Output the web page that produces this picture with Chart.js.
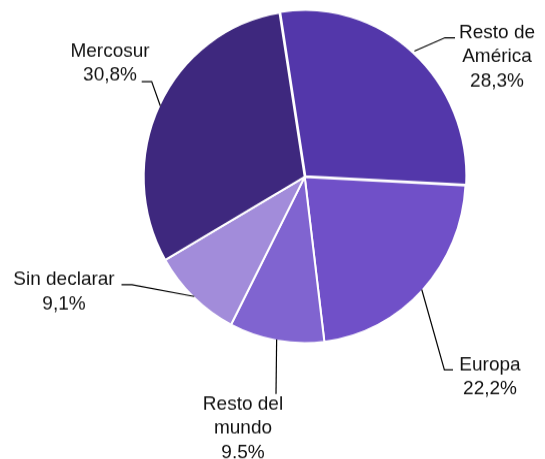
<!DOCTYPE html>
<html>
<head>
<meta charset="utf-8">
<script src="https://cdn.jsdelivr.net/npm/chart.js@4.4.4/dist/chart.umd.min.js"></script>
<style>
  html, body { margin: 0; padding: 0; background: #fff; overflow: hidden; }
  /* the reference pie is a bit taller than wide, so stretch the drawing slightly */
  #wrap { width: 545px; height: 460px; transform: scaleY(1.032); transform-origin: 0 0; }
</style>
</head>
<body>
<div id="wrap"><canvas id="chart"></canvas></div>
<script>
// data
const regions = ['Resto de América', 'Europa', 'Resto del mundo', 'Sin declarar', 'Mercosur'];
const shares = [28.3, 22.2, 9.5, 9.1, 30.8];
const shareLabels = ['28,3%', '22,2%', '9.5%', '9,1%', '30,8%'];
const nameLines = [['Resto de', 'América'], ['Europa'], ['Resto del', 'mundo'], ['Sin declarar'], ['Mercosur']];

// look
const sliceColors = ['#5337AA', '#7050C8', '#8064D0', '#A28CDA', '#3E287E'];
const stretch = 1.032;

// label layout in page pixels: text centre x, first line y, leader elbow, leader end
const labelX = [497, 490, 243, 64, 110];
const labelY = [32.5, 364.6, 404, 279.5, 51];
const elbows = [[445, 37.7], [444.4, 369.8], [276, 394], [132, 284.7], [151.7, 81.7]];
const leaderEnds = [[455, 37.7], [453, 369.8], [276, 394], [121.5, 284.7], [141.7, 81.7]];
const lineGap = 24.5;

const pieLabels = {
  id: 'pieLabels',
  afterDatasetsDraw(chart) {
    const ctx = chart.ctx;
    const arcs = chart.getDatasetMeta(0).data;
    ctx.save();
    ctx.strokeStyle = '#000';
    ctx.lineWidth = 1.2;
    arcs.forEach((arc, i) => {
      const p = arc.getProps(['x', 'y', 'startAngle', 'endAngle', 'outerRadius']);
      const mid = (p.startAngle + p.endAngle) / 2;
      const off = arc.options.offset || 0;
      const r = p.outerRadius - 1 + off;
      ctx.beginPath();
      ctx.moveTo(p.x + Math.cos(mid) * r, p.y + Math.sin(mid) * r);
      ctx.lineTo(elbows[i][0], elbows[i][1] / stretch);
      ctx.lineTo(leaderEnds[i][0], leaderEnds[i][1] / stretch);
      ctx.stroke();
    });

    ctx.fillStyle = '#111';
    ctx.font = '19px "Liberation Sans", Arial, sans-serif';
    ctx.textAlign = 'center';
    ctx.textBaseline = 'middle';
    nameLines.forEach((lines, i) => {
      const all = lines.concat([shareLabels[i]]);
      all.forEach((t, j) => {
        ctx.fillText(t, labelX[i], (labelY[i] + j * lineGap) / stretch);
      });
    });
    ctx.restore();
  }
};

new Chart(document.getElementById('chart'), {
  type: 'pie',
  data: {
    labels: regions,
    datasets: [{
      data: shares,
      backgroundColor: sliceColors,
      borderColor: '#fff',
      borderWidth: 2,
      offset: [4, 0, 0, 0, 0],
      radius: 161
    }]
  },
  options: {
    responsive: true,
    maintainAspectRatio: false,
    animation: false,
    rotation: -9,
    layout: { padding: { left: 104.7, right: 40.3, top: 6.4, bottom: 123.6 } },
    plugins: {
      legend: { display: false },
      tooltip: { enabled: false }
    }
  },
  plugins: [pieLabels]
});
</script>
</body>
</html>
